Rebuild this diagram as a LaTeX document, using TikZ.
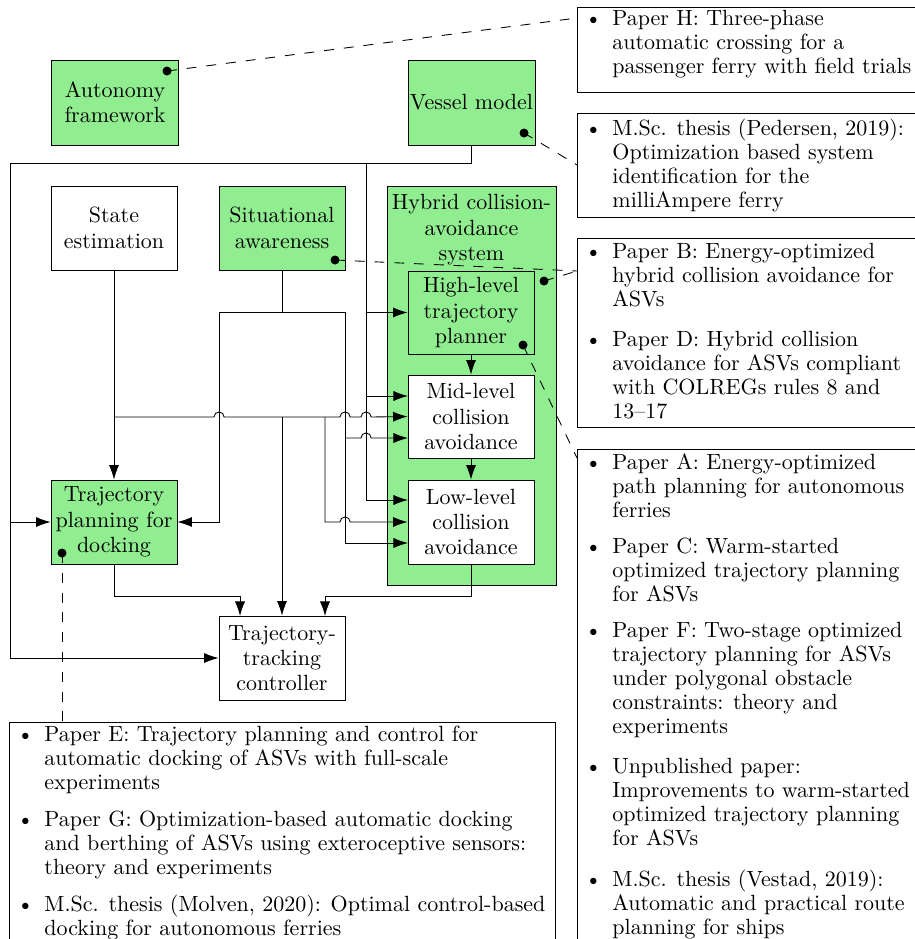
\documentclass[tikz,border=0pt]{standalone}
\usetikzlibrary{arrows.meta}
\newcommand\pxl{0.4545pt}
\newcommand\bul{\makebox[12.5pt][l]{\textbullet}}
\definecolor{lgreen}{HTML}{90EE90}
\begin{document}
\begin{tikzpicture}[x=0.4545pt, y=-0.4545pt,
  blk/.style={draw, align=center, inner sep=0pt, minimum width=126*\pxl, minimum height=84*\pxl, font={\fontsize{10}{11.5}\selectfont}},
  grn/.style={blk, fill=lgreen},
  wht/.style={blk, fill=white},
  arr/.style={-{Latex[length=6.6pt,width=4.6pt]}},
  dot/.style={circle, fill=black, inner sep=0pt, minimum size=9*\pxl},
  dsh/.style={dash pattern=on 4.5pt off 4.5pt},
  pbox/.style={draw, inner sep=0pt, anchor=north west},
  item/.style={anchor=base west, inner sep=0pt, font={\fontsize{10}{11}\selectfont}}]
\useasboundingbox (0,0) rectangle (914,939);

% main blocks
\node[grn, minimum width=127*\pxl, minimum height=85*\pxl] (auto) at (115,102.5) {Autonomy\\framework};
\node[grn, minimum width=127*\pxl, minimum height=85*\pxl] (vessel) at (471.5,102.5) {Vessel model};
\node[wht] (state) at (114,228) {State\\estimation};
\node[grn] (situ) at (282,228) {Situational\\awareness};
\node[draw, fill=lgreen, minimum width=169*\pxl, minimum height=399*\pxl, inner sep=0pt] (hyb) at (471.5,385.5) {};
\node[anchor=north, align=center, inner sep=0pt, font={\fontsize{10}{11.6}\selectfont}] (hybt) at (471.5,194) {Hybrid collision-\\avoidance\\system};
\node[grn, minimum height=83*\pxl] (high) at (471,312.5) {High-level\\trajectory\\planner};
\node[wht, minimum height=83*\pxl] (mid) at (471,416.5) {Mid-level\\collision\\avoidance};
\node[wht] (low) at (471,522) {Low-level\\collision\\avoidance};
\node[grn] (dock) at (114,522) {Trajectory\\planning for\\docking};
\node[wht] (ctrl) at (282,658) {Trajectory-\\tracking\\controller};

% junction coordinates
\coordinate (vj) at (471.5,163);
\coordinate (lj) at (10,163);
\coordinate (sj) at (282,312);

% vessel model bus
\draw[arr] (vessel.south) -- (vj) -- (lj) -- (10,658) -- (ctrl.west);
\draw[arr] (10,522) -- (dock.west);
\draw[arr] (366,163) -- (366,500) -- (408,500);
\draw[arr] (366,312.5) -- (high.west);
\draw[arr] (366,396) -- (408,396);

% situational awareness
\draw (situ.south) -- (sj);
\draw (219,312) -- (345,312);
\draw[arr] (219,312) -- (219,522) -- (dock.east);
\draw[arr] (345,312) -- (345,543) -- (408,543);
\draw[arr] (345,438) -- (361,438) arc[start angle=180,end angle=0,radius=2.3pt] -- (408,438);

% state estimation
\draw[arr] (state.south) -- (dock.north);
\draw[arr] (114,417) -- (214,417) arc[start angle=180,end angle=0,radius=2.3pt]
  -- (340,417) arc[start angle=180,end angle=0,radius=2.3pt]
  -- (361,417) arc[start angle=180,end angle=0,radius=2.3pt] -- (mid.west);
\draw[arr] (282,417) -- (ctrl.north);
\draw[arr] (325,417) -- (325,522) -- (340,522) arc[start angle=180,end angle=0,radius=2.3pt] -- (low.west);

% hybrid chain
\draw[arr] (high.south) -- (mid.north);
\draw[arr] (mid.south) -- (low.north);
\draw[arr] (low.south) -- (471,596) -- (325,596) -- (325,616);
\draw[arr] (dock.south) -- (114,596) -- (240,596) -- (240,616);

% paper boxes
\node[pbox, minimum width=340*\pxl, minimum height=85*\pxl] (bH) at (577,7) {};
\node[pbox, minimum width=340*\pxl, minimum height=104*\pxl] (bP) at (577,113) {};
\node[pbox, minimum width=340*\pxl, minimum height=189*\pxl] (bBD) at (577,238) {};
\node[pbox, minimum width=340*\pxl, minimum height=500*\pxl] (bA) at (577,449) {};
\node[pbox, minimum width=546*\pxl, minimum height=230*\pxl] (bE) at (9,722) {};

% dashed links
\coordinate (eH) at (577,18);
\coordinate (eP) at (577,165);
\coordinate (eB) at (577,271);
\coordinate (eA) at (577,458);
\coordinate (eE) at (62,722);
\node[dot] (dA) at (167,71) {};
\node[dot] (dV) at (524,133) {};
\node[dot] (dS) at (335,260) {};
\node[dot] (dH) at (544,281) {};
\node[dot] (dHi) at (523,345) {};
\node[dot] (dD) at (62,553) {};
\draw[dsh] (dA.center) -- (eH);
\draw[dsh] (dV.center) -- (eP);
\draw[dsh] (dS.center) -- (eB);
\draw[dsh] (dH.center) -- (eB);
\draw[dsh] (dHi.center) -- (eA);
\draw[dsh] (dD.center) -- (eE);

% items
\node[item] (iH) at (584.5,25) {\begin{tabular}[t]{@{}l@{}l@{}}\bul&Paper H: Three-phase\\&automatic crossing for a\\&passenger ferry with field trials\end{tabular}};
\node[item] (iP) at (584.5,135) {\begin{tabular}[t]{@{}l@{}l@{}}\bul&M.Sc. thesis (Pedersen, 2019):\\&Optimization based system\\&identification for the\\&milliAmpere ferry\end{tabular}};
\node[item] (iB) at (584.5,258) {\begin{tabular}[t]{@{}l@{}l@{}}\bul&Paper B: Energy-optimized\\&hybrid collision avoidance for\\&ASVs\end{tabular}};
\node[item] (iD) at (584.5,346) {\begin{tabular}[t]{@{}l@{}l@{}}\bul&Paper D: Hybrid collision\\&avoidance for ASVs compliant\\&with COLREGs rules 8 and\\&13–17\end{tabular}};
\node[item] (iA) at (584.5,469) {\begin{tabular}[t]{@{}l@{}l@{}}\bul&Paper A: Energy-optimized\\&path planning for autonomous\\&ferries\end{tabular}};
\node[item] (iC) at (584.5,553) {\begin{tabular}[t]{@{}l@{}l@{}}\bul&Paper C: Warm-started\\&optimized trajectory planning\\&for ASVs\end{tabular}};
\node[item] (iF) at (584.5,637) {\begin{tabular}[t]{@{}l@{}l@{}}\bul&Paper F: Two-stage optimized\\&trajectory planning for ASVs\\&under polygonal obstacle\\&constraints: theory and\\&experiments\end{tabular}};
\node[item] (iU) at (584.5,773) {\begin{tabular}[t]{@{}l@{}l@{}}\bul&Unpublished paper:\\&Improvements to warm-started\\&optimized trajectory planning\\&for ASVs\end{tabular}};
\node[item] (iV) at (584.5,886) {\begin{tabular}[t]{@{}l@{}l@{}}\bul&M.Sc. thesis (Vestad, 2019):\\&Automatic and practical route\\&planning for ships\end{tabular}};
\node[item] (iE) at (16.5,741) {\begin{tabular}[t]{@{}l@{}l@{}}\bul&Paper E: Trajectory planning and control for\\&automatic docking of ASVs with full-scale\\&experiments\end{tabular}};
\node[item] (iG) at (16.5,826) {\begin{tabular}[t]{@{}l@{}l@{}}\bul&Paper G: Optimization-based automatic docking\\&and berthing of ASVs using exteroceptive sensors:\\&theory and experiments\end{tabular}};
\node[item] (iM) at (16.5,911) {\begin{tabular}[t]{@{}l@{}l@{}}\bul&M.Sc. thesis (Molven, 2020): Optimal control-based\\&docking for autonomous ferries\end{tabular}};
\end{tikzpicture}
\end{document}
